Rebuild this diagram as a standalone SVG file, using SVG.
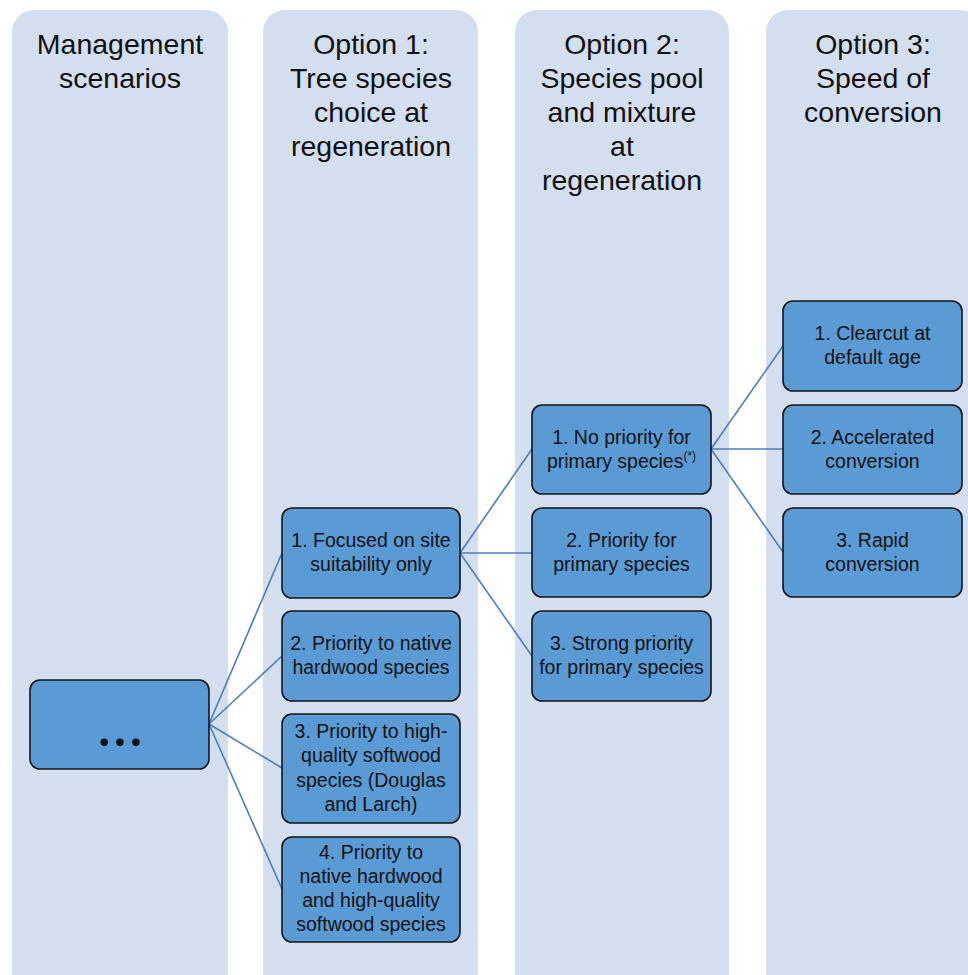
<svg xmlns="http://www.w3.org/2000/svg" width="968" height="975" viewBox="0 0 968 975">
<style>
.col{fill:#D3DEEF;}
.node{fill:#5B9BD5;stroke:#141414;stroke-width:1.6;}
.hd{font-family:"Liberation Sans","Noto Sans",sans-serif;font-size:28.5px;fill:#111;text-anchor:middle;}
.nt{font-family:"Liberation Sans","Noto Sans",sans-serif;font-size:19.5px;fill:#111;text-anchor:middle;}
.con{stroke:#4A7EBB;stroke-width:1.6;fill:none;}
</style>
<rect width="968" height="975" fill="#FFFFFF"/>
<g id="columns">
<rect class="col" x="12" y="10" width="216" height="990" rx="22"/>
<rect class="col" x="263" y="10" width="215" height="990" rx="22"/>
<rect class="col" x="515" y="10" width="214" height="990" rx="22"/>
<rect class="col" x="766" y="10" width="216" height="990" rx="22"/>
<text class="hd" x="120" y="54">Management</text>
<text class="hd" x="120" y="88">scenarios</text>
<text class="hd" x="371" y="54">Option 1:</text>
<text class="hd" x="371" y="88">Tree species</text>
<text class="hd" x="371" y="122">choice at</text>
<text class="hd" x="371" y="156">regeneration</text>
<text class="hd" x="622" y="54">Option 2:</text>
<text class="hd" x="622" y="88">Species pool</text>
<text class="hd" x="622" y="122">and mixture</text>
<text class="hd" x="622" y="156">at</text>
<text class="hd" x="622" y="190">regeneration</text>
<text class="hd" x="873" y="54">Option 3:</text>
<text class="hd" x="873" y="88">Speed of</text>
<text class="hd" x="873" y="122">conversion</text>
</g>
<g id="connectors">
<line class="con" x1="209" y1="724" x2="282" y2="553"/>
<line class="con" x1="209" y1="724" x2="282" y2="656"/>
<line class="con" x1="209" y1="724" x2="282" y2="768"/>
<line class="con" x1="209" y1="724" x2="282" y2="889"/>
<line class="con" x1="460" y1="553" x2="532" y2="449"/>
<line class="con" x1="460" y1="553" x2="532" y2="553"/>
<line class="con" x1="460" y1="553" x2="532" y2="656"/>
<line class="con" x1="711" y1="449" x2="783" y2="346"/>
<line class="con" x1="711" y1="449" x2="783" y2="449"/>
<line class="con" x1="711" y1="449" x2="783" y2="552"/>
</g>
<g id="n-dots">
<rect class="node" x="30" y="680" width="179" height="89" rx="10"/>
<text x="122" y="746" font-family="Lato,'Liberation Sans',sans-serif" font-size="50" font-weight="bold" letter-spacing="4" text-anchor="middle" fill="#111">...</text>
</g>
<g id="n1-1">
<rect class="node" x="282" y="508" width="178" height="90" rx="10"/>
<text class="nt" x="371" y="547">1. Focused on site</text>
<text class="nt" x="371" y="571">suitability only</text>
</g>
<g id="n1-2">
<rect class="node" x="282" y="611" width="178" height="90" rx="10"/>
<text class="nt" x="371" y="650">2. Priority to native</text>
<text class="nt" x="371" y="674">hardwood species</text>
</g>
<g id="n1-3">
<rect class="node" x="282" y="714" width="178" height="109" rx="10"/>
<text class="nt" x="371" y="738">3. Priority to high-</text>
<text class="nt" x="371" y="762">quality softwood</text>
<text class="nt" x="371" y="787">species (Douglas</text>
<text class="nt" x="371" y="811">and Larch)</text>
</g>
<g id="n1-4">
<rect class="node" x="282" y="837" width="178" height="105" rx="10"/>
<text class="nt" x="371" y="859">4. Priority to</text>
<text class="nt" x="371" y="883">native hardwood</text>
<text class="nt" x="371" y="907">and high-quality</text>
<text class="nt" x="371" y="931">softwood species</text>
</g>
<g id="n2-1">
<rect class="node" x="532" y="405" width="179" height="89" rx="10"/>
<text class="nt" x="621.5" y="444">1. No priority for</text>
<text class="nt" x="621.5" y="468">primary species<tspan font-size="12" dy="-8">(*)</tspan></text>
</g>
<g id="n2-2">
<rect class="node" x="532" y="508" width="179" height="89" rx="10"/>
<text class="nt" x="621.5" y="547">2. Priority for</text>
<text class="nt" x="621.5" y="571">primary species</text>
</g>
<g id="n2-3">
<rect class="node" x="532" y="611" width="179" height="90" rx="10"/>
<text class="nt" x="621.5" y="650">3. Strong priority</text>
<text class="nt" x="621.5" y="674">for primary species</text>
</g>
<g id="n3-1">
<rect class="node" x="783" y="301" width="179" height="90" rx="10"/>
<text class="nt" x="872.5" y="340">1. Clearcut at</text>
<text class="nt" x="872.5" y="364">default age</text>
</g>
<g id="n3-2">
<rect class="node" x="783" y="405" width="179" height="89" rx="10"/>
<text class="nt" x="872.5" y="444">2. Accelerated</text>
<text class="nt" x="872.5" y="468">conversion</text>
</g>
<g id="n3-3">
<rect class="node" x="783" y="508" width="179" height="89" rx="10"/>
<text class="nt" x="872.5" y="547">3. Rapid</text>
<text class="nt" x="872.5" y="571">conversion</text>
</g>
</svg>
